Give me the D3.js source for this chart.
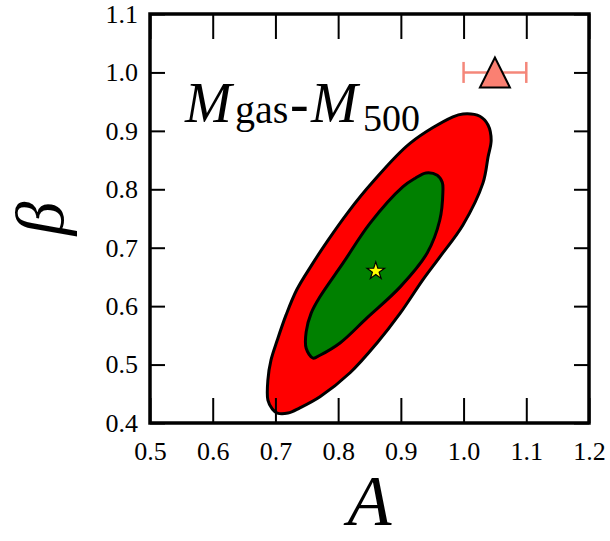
<!DOCTYPE html>
<html>
<head>
<meta charset="utf-8">
<script src="https://cdn.jsdelivr.net/npm/d3@7"></script>
<style>
body { margin: 0; background: white; }
</style>
</head>
<body>
<script>
const largeur = 610;
const hauteur = 541;

// graduations
const ticksA = [0.5, 0.6, 0.7, 0.8, 0.9, 1.0, 1.1, 1.2];
const ticksBeta = [0.4, 0.5, 0.6, 0.7, 0.8, 0.9, 1.0, 1.1];

// contour 2 sigma (rouge)
const contourExtA = [0.999, 1.026, 1.039, 1.044, 1.039, 1.031, 0.999, 0.962, 0.935, 0.899, 0.862, 0.819, 0.771, 0.739, 0.720, 0.703, 0.695, 0.688, 0.688, 0.693, 0.703, 0.717, 0.734, 0.757, 0.784, 0.816, 0.854, 0.915, 0.983];
const contourExtB = [0.929, 0.925, 0.910, 0.884, 0.855, 0.811, 0.739, 0.684, 0.645, 0.588, 0.537, 0.486, 0.445, 0.426, 0.417, 0.417, 0.424, 0.439, 0.474, 0.508, 0.542, 0.585, 0.628, 0.669, 0.713, 0.761, 0.811, 0.879, 0.924];

// contour 1 sigma (vert)
const contourIntA = [0.940, 0.958, 0.966, 0.967, 0.962, 0.942, 0.899, 0.846, 0.803, 0.771, 0.760, 0.749, 0.749, 0.757, 0.771, 0.808, 0.851, 0.903, 0.923];
const contourIntB = [0.828, 0.824, 0.812, 0.795, 0.747, 0.691, 0.633, 0.580, 0.537, 0.516, 0.511, 0.528, 0.556, 0.588, 0.616, 0.674, 0.742, 0.804, 0.819];

// meilleur ajustement
const meilleurA = [0.86];
const meilleurB = [0.66];

// point de reference avec barre d'erreur
const refA = [1.05];
const refB = [1.0];
const refErrA = [0.05];

const svg = d3
.select("body")
.append("svg")
.attr("width", largeur)
.attr("height", hauteur);

const x = d3.scaleLinear().domain([0.5, 1.2]).range([150, 589]);
const y = d3.scaleLinear().domain([0.4, 1.1]).range([423, 14]);

const ligne = d3.line()
.x(function(d) { return x(d[0]); })
.y(function(d) { return y(d[1]); })
.curve(d3.curveCatmullRomClosed.alpha(0.5));

const ext = contourExtA.map(function(a, i) { return [a, contourExtB[i]]; });
const int = contourIntA.map(function(a, i) { return [a, contourIntB[i]]; });

svg.append("path")
.attr("d", ligne(ext))
.attr("fill", "#ff0000")
.attr("stroke", "black")
.attr("stroke-width", 3)
.attr("stroke-linejoin", "round");

svg.append("path")
.attr("d", ligne(int))
.attr("fill", "#008000")
.attr("stroke", "black")
.attr("stroke-width", 3)
.attr("stroke-linejoin", "round");

// etoile
svg.selectAll(".etoile")
.data(meilleurA)
.enter()
.append("path")
.attr("class", "etoile")
.attr("d", d3.symbol().type(d3.symbolStar).size(95))
.attr("transform", function(d, i) { return "translate(" + x(d) + "," + y(meilleurB[i]) + ")"; })
.attr("fill", "#ffff00")
.attr("stroke", "black")
.attr("stroke-width", 1.2);

// barre d'erreur
refA.forEach(function(a, i)
{
    const g = svg.append("g").attr("stroke", "#f4877a").attr("stroke-width", 2.5);
    g.append("line")
    .attr("x1", x(a - refErrA[i])).attr("x2", x(a + refErrA[i]))
    .attr("y1", y(refB[i])).attr("y2", y(refB[i]));
    [a - refErrA[i], a + refErrA[i]].forEach(function(v)
    {
        g.append("line")
        .attr("x1", x(v)).attr("x2", x(v))
        .attr("y1", y(refB[i]) - 10.5).attr("y2", y(refB[i]) + 10.5);
    });
    const cx = x(a), cy = y(refB[i]);
    svg.append("path")
    .attr("d", "M" + cx + "," + (cy - 15) + "L" + (cx - 15) + "," + (cy + 15) + "L" + (cx + 15) + "," + (cy + 15) + "Z")
    .attr("fill", "#fa8072")
    .attr("stroke", "black")
    .attr("stroke-width", 2)
    .attr("stroke-linejoin", "miter");
});

// axes
const police = "Liberation Serif";

const axeBas = svg.append("g")
.attr("transform", "translate(0,423)")
.call(d3.axisBottom(x).tickValues(ticksA).tickSize(-25).tickPadding(19).tickFormat(d3.format(".1f")));
const axeHaut = svg.append("g")
.attr("transform", "translate(0,14)")
.call(d3.axisTop(x).tickValues(ticksA).tickSize(-25).tickFormat(""));
const axeGauche = svg.append("g")
.attr("transform", "translate(150,0)")
.call(d3.axisLeft(y).tickValues(ticksBeta).tickSize(-15).tickPadding(12).tickFormat(d3.format(".1f")));
const axeDroite = svg.append("g")
.attr("transform", "translate(589,0)")
.call(d3.axisRight(y).tickValues(ticksBeta).tickSize(-15).tickFormat(""));

[axeBas, axeHaut, axeGauche, axeDroite].forEach(function(a)
{
    a.attr("font-family", police).attr("font-size", 26);
    a.select(".domain").remove();
    a.selectAll("line").attr("stroke", "black").attr("stroke-width", 2);
    a.selectAll("text").attr("fill", "black");
});

// cadre
svg.append("rect")
.attr("x", 150)
.attr("y", 14)
.attr("width", 439)
.attr("height", 409)
.attr("fill", "none")
.attr("stroke", "black")
.attr("stroke-width", 3.5);

// titres des axes
svg.append("text")
.attr("x", (x.range()[0] + x.range()[1]) / 2)
.attr("y", 525)
.attr("text-anchor", "middle")
.attr("font-family", police)
.attr("font-style", "italic")
.attr("font-size", 72)
.text("A");

svg.append("text")
.attr("transform", "translate(63," + ((y.range()[0] + y.range()[1]) / 2) + ") rotate(-90)")
.attr("text-anchor", "middle")
.attr("font-family", police)
.attr("font-style", "italic")
.attr("font-size", 68)
.text("β");

// etiquette
const x0 = x(0.556);
const etiquette = svg.append("text")
.attr("x", x0)
.attr("y", y(0.915))
.attr("font-family", police)
.attr("font-size", 56);
etiquette.append("tspan").attr("font-style", "italic").text("M");
etiquette.append("tspan").attr("x", x0 + 50).attr("dy", 1).attr("font-size", 40).text("gas");
etiquette.append("tspan").attr("x", x0 + 105).attr("dy", -1).text("-");
etiquette.append("tspan").attr("x", x0 + 126).attr("font-style", "italic").text("M");
etiquette.append("tspan").attr("x", x0 + 178).attr("dy", 9).attr("font-size", 38).text("500");
</script>
</body>
</html>
